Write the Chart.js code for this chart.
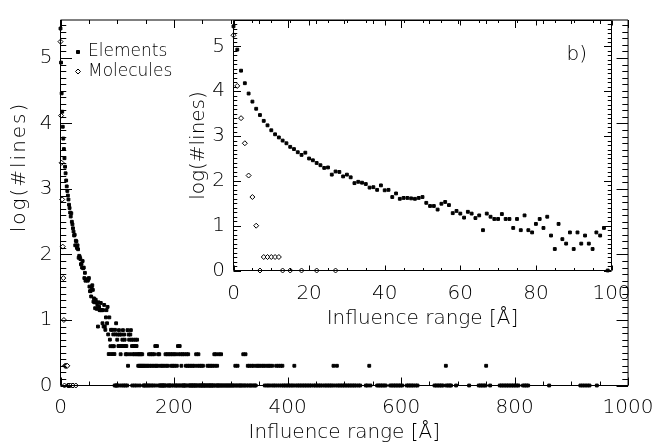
<!DOCTYPE html>
<html>
<head>
<meta charset="utf-8">
<script src="https://cdn.jsdelivr.net/npm/chart.js@4.4.0/dist/chart.umd.min.js"></script>
<style>
  html, body { margin: 0; padding: 0; background: #fff; }
  #wrap { position: relative; width: 664px; height: 447px; }
  #wrap canvas { position: absolute; left: 0; top: 0; }
</style>
</head>
<body>
<div id="wrap">
  <canvas id="main" width="664" height="447"></canvas>
  <canvas id="inset" width="664" height="447"></canvas>
</div>
<script>
// number of lines per 1 A bin of influence range, log10
const elemRange = [
  0, 1, 2, 3, 4, 5, 6, 7, 8, 9,
  10, 11, 12, 13, 14, 15, 16, 17, 18, 19,
  20, 21, 22, 23, 24, 25, 26, 27, 28, 29,
  30, 31, 32, 33, 34, 35, 36, 37, 38, 39,
  40, 41, 42, 43, 44, 45, 46, 47, 48, 49,
  50, 51, 52, 53, 54, 55, 56, 57, 58, 59,
  60, 61, 62, 63, 64, 65, 66, 67, 68, 69,
  70, 71, 72, 73, 74, 75, 76, 77, 78, 79,
  80, 81, 82, 83, 84, 85, 86, 87, 88, 89,
  90, 91, 92, 93, 94, 95, 96, 97, 98, 99
];
const elemLog = [
  5.45, 4.93, 4.46, 4.18, 3.95, 3.77, 3.61, 3.47, 3.34, 3.24,
  3.13, 3.04, 2.97, 2.90, 2.84, 2.76, 2.71, 2.64, 2.58, 2.63,
  2.50, 2.46, 2.40, 2.35, 2.29, 2.30, 2.14, 2.21, 2.20, 2.10,
  2.14, 2.08, 1.95, 1.98, 1.96, 1.93, 1.85, 1.86, 1.80, 1.90,
  1.79, 1.80, 1.64, 1.72, 1.60, 1.62, 1.62, 1.61, 1.60, 1.62,
  1.64, 1.51, 1.44, 1.44, 1.36, 1.49, 1.53, 1.46, 1.28, 1.33,
  1.27, 1.18, 1.31, 1.27, 1.17, 1.23, 0.90, 1.27, 1.20, 1.15,
  1.15, 1.26, 1.15, 1.15, 0.95, 1.15, 0.90, 1.23, 0.90, 0.85,
  1.04, 1.15, 0.95, 1.20, 0.78, 0.48, 1.04, 0.70, 0.60, 0.85,
  0.48, 0.85, 0.60, 0.78, 0.60, 0.48, 0.85, 0.78, 0.95, 0.00
];

// long tail (main panel only), grouped by level
const tailLevels = [0.845, 0.778, 0.699, 0.602, 0.477, 0.301, 0];
const tailBins = [
  [103, 110, 118, 124],
  [101, 104, 107, 112, 120, 123],
  [100, 109, 113, 121, 125, 128, 132, 135],
  [102, 105, 108, 111, 114, 116, 126, 129, 131, 134, 167, 170, 207, 210],
  [106, 115, 117, 122, 127, 130, 133, 136, 138, 140, 142, 144, 156, 159, 162, 165, 172, 174,
   185, 188, 191, 194, 197, 200, 203, 208, 212, 215, 218, 222, 225, 239, 243, 271, 274, 279,
   283, 322, 326],
  [119, 137, 139, 141, 143, 145, 147, 149, 152, 154, 157, 160, 163, 166, 169, 171, 176, 179,
   182, 186, 189, 195, 198, 201, 205, 213, 221, 224, 227, 230, 233, 236, 241, 245, 248, 251,
   259, 262, 265, 268, 272, 276, 308, 312, 330, 333, 337, 340, 345, 348, 351, 355, 358, 362,
   366, 369, 373, 380, 384, 388, 391, 412, 481, 487, 544, 679, 750],
  [95.5, 97.5, 100.5, 104.5, 108.5, 111.5, 114.5, 117.5, 126.5, 130.5, 134.5, 139.5, 146, 148,
   150, 153, 155, 158, 161, 164, 168, 173, 175, 177, 178, 180, 181, 183, 184, 187, 190, 192,
   193, 196, 199, 202, 204, 206, 209, 211, 214, 216, 217, 219, 220, 223, 226, 228, 229, 231,
   232, 234, 235, 237, 238, 240, 242, 244, 246, 247, 249, 250, 252, 253, 255, 256, 258, 260,
   261, 263, 264, 266, 267, 269, 270, 273, 275, 277, 278, 280, 282, 284, 286, 288, 290, 292,
   294, 296, 298, 300, 302, 304, 306, 309, 311, 314, 316, 318, 320, 323, 325, 328, 331, 334,
   336, 339, 342, 344, 360, 364, 367, 371, 375, 378, 382, 386, 390, 393, 396, 399, 402, 405,
   408, 411, 415, 418, 421, 424, 427, 430, 433, 436, 439, 442, 446, 449, 452, 455, 458, 461,
   465, 468, 471, 474, 477, 480, 484, 488, 491, 494, 497, 500, 503, 506, 509, 512, 515, 518,
   521, 525, 528, 538, 541, 546, 558, 561, 564, 567, 570, 573, 581, 584, 587, 590, 593, 596,
   599, 602, 610, 613, 616, 619, 622, 626, 629, 659, 662, 665, 668, 671, 674, 680, 683, 686,
   688, 697, 720, 737, 740, 743, 746, 749, 757, 774, 777, 780, 783, 786, 789, 792, 795, 798,
   801, 804, 807, 815, 818, 821, 824, 861, 916, 920, 924, 928, 932, 945]
];

const molRange = [0, 1, 2, 3, 4, 5, 6, 7, 8, 9, 10, 11, 12, 13, 15, 18, 22, 27];
const molLog = [5.25, 4.12, 3.40, 2.84, 2.12, 1.64, 1.00, 0, 0.301, 0.301, 0.301, 0.301, 0.301, 0, 0, 0, 0, 0];

const mainXTicks = [0, 200, 400, 600, 800, 1000];
const insetXTicks = [0, 20, 40, 60, 80, 100];
const yTicks = [0, 1, 2, 3, 4, 5];
const yMax = 5.58;

const FAMILY = "'DejaVu Sans', 'Liberation Sans', sans-serif";
const INK = '#000';
Chart.defaults.font.family = FAMILY;
Chart.defaults.font.weight = '200';
Chart.defaults.color = INK;

const corePts = elemRange.map((x, i) => ({x, y: elemLog[i]}));
const tailPts = [];
tailBins.forEach((bins, k) => bins.forEach(x => tailPts.push({x, y: tailLevels[k]})));
const molPts = molRange.map((x, i) => ({x, y: molLog[i]}));

function elemSet(data) {
  return {label: 'Elements', data, pointStyle: 'rect', pointRadius: 2, pointHoverRadius: 2,
    backgroundColor: INK, borderColor: INK, borderWidth: 1, clip: false};
}
function molSet(data) {
  return {label: 'Molecules', data, pointStyle: 'rectRot', pointRadius: 2.5, pointHoverRadius: 2.5,
    backgroundColor: '#fff', borderColor: INK, borderWidth: 1, clip: false};
}

// box with inward major/minor ticks on all four sides
const frame = {
  id: 'frame',
  afterDraw(chart, args, o) {
    const {ctx, chartArea: a, scales: {x, y}} = chart;
    ctx.save();
    ctx.strokeStyle = INK;
    ctx.lineWidth = 1;
    ctx.beginPath();
    ctx.rect(a.left, a.top, a.right - a.left, a.bottom - a.top);
    for (let i = 0; x.min + i * o.xMinor <= x.max + 1e-6; i++) {
      const v = x.min + i * o.xMinor;
      const p = Math.round(x.getPixelForValue(v)) + 0.5;
      const len = (i % o.xEvery === 0) ? o.xLen : o.xLen / 2;
      ctx.moveTo(p, a.bottom); ctx.lineTo(p, a.bottom - len);
      ctx.moveTo(p, a.top); ctx.lineTo(p, a.top + len);
    }
    for (let i = 0; y.min + i * o.yMinor <= y.max + 1e-6; i++) {
      const v = y.min + i * o.yMinor;
      const p = Math.round(y.getPixelForValue(v)) + 0.5;
      const len = (i % o.yEvery === 0) ? o.yLen : o.yLen / 2;
      ctx.moveTo(a.left, p); ctx.lineTo(a.left + len, p);
      ctx.moveTo(a.right, p); ctx.lineTo(a.right - len, p);
    }
    ctx.stroke();
    ctx.restore();
  }
};

// legend drawn inside the main plot, top left
const innerLegend = {
  id: 'innerLegend',
  afterDatasetsDraw(chart) {
    const {ctx, chartArea: a} = chart;
    ctx.save();
    ctx.font = '200 17px ' + FAMILY;
    ctx.textBaseline = 'middle';
    ctx.lineWidth = 1;
    chart.data.datasets.forEach((ds, i) => {
      const cy = a.top + 32 + i * 19.5;
      const cx = a.left + 17.5;
      ctx.beginPath();
      if (ds.pointStyle === 'rect') {
        ctx.rect(cx - 1.5, cy - 1.5, 3, 3);
      } else {
        ctx.moveTo(cx - 2.5, cy); ctx.lineTo(cx, cy - 2.5);
        ctx.lineTo(cx + 2.5, cy); ctx.lineTo(cx, cy + 2.5); ctx.closePath();
      }
      ctx.fillStyle = ds.backgroundColor;
      ctx.strokeStyle = ds.borderColor;
      ctx.fill(); ctx.stroke();
      ctx.fillStyle = INK;
      ctx.fillText(ds.label, cx + 10, cy);
    });
    ctx.restore();
  }
};

// free text: panel tag and the main y title (which sits above the axis centre)
const freeText = {
  id: 'freeText',
  afterDraw(chart, args, o) {
    const {ctx, chartArea: a} = chart;
    ctx.save();
    ctx.font = '200 20px ' + FAMILY;
    ctx.fillStyle = INK;
    if (o.tag) {
      ctx.textBaseline = 'alphabetic';
      ctx.fillText(o.tag, a.right - 45, a.top + 39);
    }
    if (o.yTitle) {
      ctx.translate(o.yTitleX, o.yTitleY);
      ctx.rotate(-Math.PI / 2);
      ctx.letterSpacing = '2px';
      ctx.textAlign = 'center';
      ctx.textBaseline = 'middle';
      ctx.fillText(o.yTitle, 0, 0);
    }
    ctx.restore();
  }
};

function axes(xMin, xMax, xTicks, yWidth, xHeight, pads) {
  return {
    x: {
      type: 'linear', min: xMin, max: xMax,
      afterBuildTicks: s => { s.ticks = xTicks.map(v => ({value: v})); },
      afterFit: s => { s.height = xHeight; },
      grid: {display: false, drawTicks: false},
      border: {display: false},
      ticks: {font: {size: 20}, padding: pads.xTick, maxRotation: 0, autoSkip: false,
        callback: v => String(v)},
      title: {display: true, text: 'Influence range [\u00c5]', font: {size: 20},
        padding: {top: 0, bottom: pads.xTitle}}
    },
    y: {
      type: 'linear', min: 0, max: yMax,
      afterBuildTicks: s => { s.ticks = yTicks.map(v => ({value: v})); },
      afterFit: s => { s.width = yWidth; },
      grid: {display: false, drawTicks: false},
      border: {display: false},
      ticks: {font: {size: 20}, padding: pads.yTick, callback: v => String(v)},
      title: {display: pads.yText !== '', text: pads.yText, font: {size: 20},
        padding: {top: pads.yTitle, bottom: 0}}
    }
  };
}

new Chart(document.getElementById('main'), {
  type: 'scatter',
  data: {datasets: [elemSet(corePts.concat(tailPts)), molSet(molPts)]},
  options: {
    responsive: false, animation: false, events: [],
    layout: {padding: {left: 0, top: 9.5, right: 25.5, bottom: 0}},
    plugins: {legend: {display: false}, tooltip: {enabled: false},
      frame: {xMinor: 50, xEvery: 4, xLen: 8, yMinor: 0.1, yEvery: 10, yLen: 11.5},
      freeText: {yTitle: 'log(#lines)', yTitleX: 20, yTitleY: 167}},
    scales: axes(0, 1000, mainXTicks, 60.5, 61.5,
      {xTick: 10.5, xTitle: 2, yTick: 8, yTitle: 0, yText: ''})
  },
  plugins: [frame, innerLegend, freeText]
});

new Chart(document.getElementById('inset'), {
  type: 'scatter',
  data: {datasets: [elemSet(corePts), molSet(molPts)]},
  options: {
    responsive: false, animation: false, events: [],
    layout: {padding: {left: 187, top: 19.5, right: 52.5, bottom: 116.5}},
    plugins: {legend: {display: false}, tooltip: {enabled: false},
      frame: {xMinor: 5, xEvery: 4, xLen: 5, yMinor: 0.1, yEvery: 10, yLen: 7.5},
      freeText: {tag: 'b)'}},
    scales: axes(0, 100, insetXTicks, 46.5, 60,
      {xTick: 10.8, xTitle: 0.2, yTick: 8.5, yTitle: 0, yText: 'log(#lines)'})
  },
  plugins: [frame, freeText]
});
</script>
</body>
</html>
